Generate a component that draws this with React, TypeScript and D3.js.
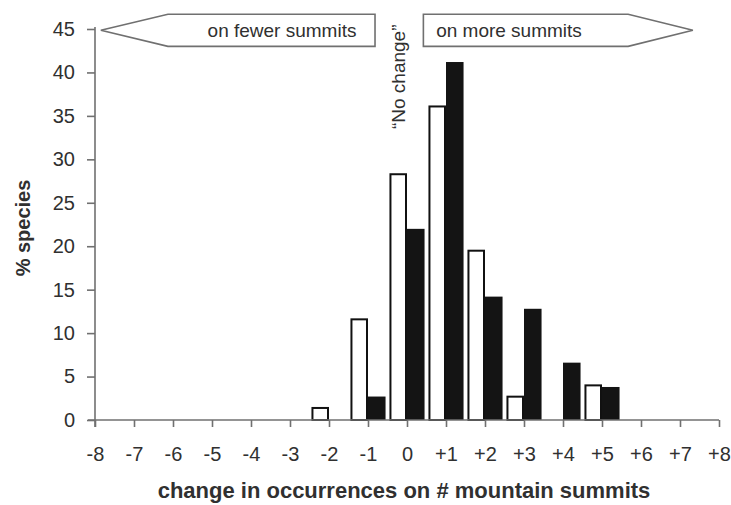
import React, { useRef, useEffect } from "react";
import { select, scaleLinear, axisBottom, axisLeft, range } from "d3";

// x categories: change in number of summits
const tickValues = range(-8, 9);
const tickLabels = [
  "-8", "-7", "-6", "-5", "-4", "-3", "-2", "-1", "0",
  "+1", "+2", "+3", "+4", "+5", "+6", "+7", "+8",
];
const yTicks = [0, 5, 10, 15, 20, 25, 30, 35, 40, 45];

// bars per change class
const changes = [-2, -1, 0, 1, 2, 3, 4, 5];
const openValues = [1.5, 11.7, 28.4, 36.2, 19.6, 2.8, 0, 4.1];
const filledValues = [0, 2.7, 22.0, 41.2, 14.2, 12.8, 6.6, 3.8];

const FONT = "'Liberation Sans', Arial, Helvetica, sans-serif";
const TEXT = "#303030";
const AXIS = "#707070";

const App = () => {
  const svgRef = useRef<SVGSVGElement>(null);

  useEffect(() => {
    const svg = select(svgRef.current);
    svg.selectAll("*").remove();

    const x = scaleLinear().domain([-8, 8]).range([95, 719]);
    const y = scaleLinear().domain([0, 45]).range([420, 29]);
    const barW = 0.45;

    // arrows on top
    const arrows = svg.append("g").attr("class", "arrows");
    const leftPts = [
      [x(-7.85), y(44.85)],
      [x(-6.13), y(46.7)],
      [x(-0.82), y(46.7)],
      [x(-0.82), y(43.0)],
      [x(-6.13), y(43.0)],
    ];
    const rightPts = [
      [x(0.42), y(46.7)],
      [x(5.67), y(46.7)],
      [x(7.33), y(44.85)],
      [x(5.67), y(43.0)],
      [x(0.42), y(43.0)],
    ];
    [leftPts, rightPts].forEach((pts) => {
      arrows
        .append("polygon")
        .attr("points", pts.map((p) => p.join(",")).join(" "))
        .attr("fill", "white")
        .attr("stroke", AXIS)
        .attr("stroke-width", 1.6);
    });
    arrows
      .append("text")
      .attr("x", 282)
      .attr("y", y(44.85))
      .attr("dy", "0.35em")
      .attr("text-anchor", "middle")
      .attr("font-size", 19)
      .attr("fill", TEXT)
      .text("on fewer summits");
    arrows
      .append("text")
      .attr("x", 509)
      .attr("y", y(44.85))
      .attr("dy", "0.35em")
      .attr("text-anchor", "middle")
      .attr("font-size", 19)
      .attr("fill", TEXT)
      .text("on more summits");

    // bars
    const bars = svg.append("g").attr("class", "bars");
    bars
      .selectAll(".open-bar")
      .data(changes.map((c, i) => ({ c, v: openValues[i] })).filter((d) => d.v > 0))
      .join("rect")
      .attr("class", "open-bar")
      .attr("x", (d) => x(d.c - barW) + 1)
      .attr("y", (d) => y(d.v) + 1)
      .attr("width", (d) => x(d.c) - x(d.c - barW) - 2)
      .attr("height", (d) => y(0) - y(d.v) - 1)
      .attr("fill", "white")
      .attr("stroke", "#111")
      .attr("stroke-width", 2);
    bars
      .selectAll(".filled-bar")
      .data(changes.map((c, i) => ({ c, v: filledValues[i] })).filter((d) => d.v > 0))
      .join("rect")
      .attr("class", "filled-bar")
      .attr("x", (d) => x(d.c))
      .attr("y", (d) => y(d.v))
      .attr("width", (d) => x(d.c + barW) - x(d.c))
      .attr("height", (d) => y(0) - y(d.v))
      .attr("fill", "#141414");

    // axes
    const xAxis = axisBottom(x)
      .tickValues(tickValues)
      .tickFormat((d, i) => tickLabels[i])
      .tickSize(7)
      .tickSizeOuter(0)
      .tickPadding(20);
    const gx = svg
      .append("g")
      .attr("transform", `translate(0,${y(0)})`)
      .call(xAxis);
    gx.select(".domain").attr("d", `M88,0H${x(8)}`);

    const yAxis = axisLeft(y)
      .tickValues(yTicks)
      .tickSize(8)
      .tickSizeOuter(0)
      .tickPadding(12);
    const gy = svg
      .append("g")
      .attr("transform", `translate(${x(-8)},0)`)
      .call(yAxis);
    gy.select(".domain").attr("d", `M0,${y(0) + 7}V${y(45) - 2}`);

    [gx, gy].forEach((g) => {
      g.selectAll(".domain, .tick line")
        .attr("stroke", AXIS)
        .attr("stroke-width", 1.6);
      g.selectAll("text")
        .attr("font-size", 20)
        .attr("font-family", FONT)
        .attr("fill", TEXT);
    });

    // no change label
    svg
      .append("text")
      .attr("transform", `translate(${x(-0.23)},${y(39.5)}) rotate(-90)`)
      .attr("text-anchor", "middle")
      .attr("dy", "0.35em")
      .attr("font-size", 19)
      .attr("fill", TEXT)
      .text("\u201CNo change\u201D");

    // axis titles
    svg
      .append("text")
      .attr("x", 404)
      .attr("y", 498)
      .attr("text-anchor", "middle")
      .attr("font-size", 22)
      .attr("font-weight", "bold")
      .attr("fill", TEXT)
      .text("change in occurrences on # mountain summits");
    svg
      .append("text")
      .attr("transform", "translate(23,228) rotate(-90)")
      .attr("text-anchor", "middle")
      .attr("dy", "0.35em")
      .attr("font-size", 20)
      .attr("font-weight", "bold")
      .attr("fill", TEXT)
      .text("% species");
  }, []);

  return (
    <svg
      ref={svgRef}
      width={731}
      height={505}
      style={{ position: "absolute", left: 0, top: 0, background: "white", fontFamily: FONT }}
    ></svg>
  );
};

export default App;
